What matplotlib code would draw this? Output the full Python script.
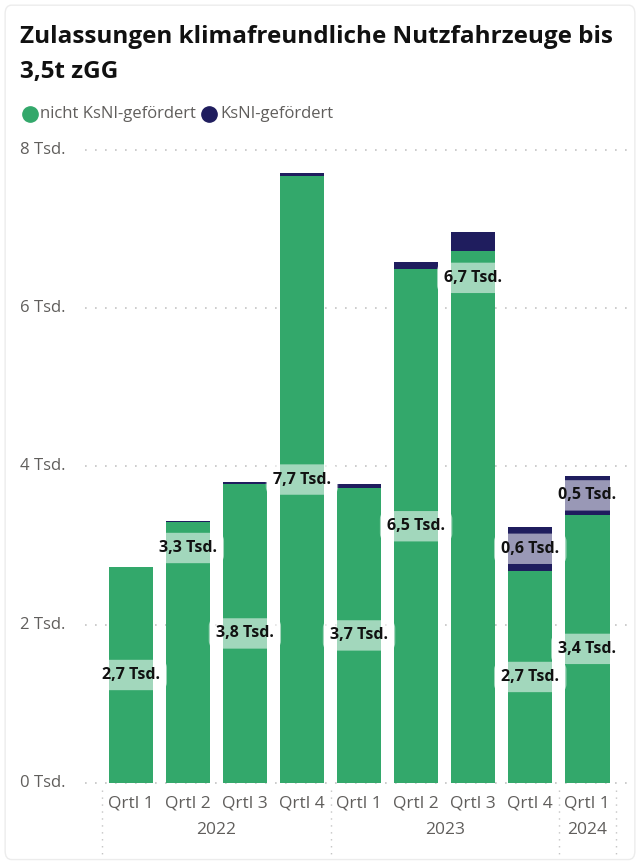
import matplotlib.pyplot as plt
from matplotlib.patches import FancyBboxPatch
from matplotlib.lines import Line2D

# quarterly registrations, thousands
quarters = ['Qrtl 1', 'Qrtl 2', 'Qrtl 3', 'Qrtl 4',
            'Qrtl 1', 'Qrtl 2', 'Qrtl 3', 'Qrtl 4', 'Qrtl 1']
years = ['2022', '2023', '2024']
year_quarters = [4, 4, 1]
nicht_ksni = [2.73, 3.30, 3.78, 7.67, 3.73, 6.49, 6.72, 2.68, 3.39]
ksni = [0.0, 0.01, 0.02, 0.04, 0.05, 0.09, 0.24, 0.56, 0.49]
yticks = [0, 2, 4, 6, 8]

# where the green labels sit inside their segment (0 = bottom, 1 = top)
label_frac = [0.5, 0.9, 0.5, 0.5, 0.5, 0.5, 0.95, 0.5, 0.5]

GREEN = '#33a86b'
NAVY = '#1f1d5e'
GRAY = '#605e5c'
FONT = 'Open Sans'

plt.rcParams['font.family'] = [FONT, 'DejaVu Sans']

fig = plt.figure(figsize=(6.4, 8.63), dpi=100)

# card border
fig.patches.append(FancyBboxPatch((0.008, 0.004), 0.984, 0.99,
                                  boxstyle='round,pad=0,rounding_size=0.01',
                                  transform=fig.transFigure, fc='none',
                                  ec='#ececec', lw=1.0))

fig.text(0.031, 0.957, 'Zulassungen klimafreundliche Nutzfahrzeuge bis',
         fontsize=17.5, fontweight='bold', color='#111111', va='center')
fig.text(0.031, 0.917, '3,5t zGG', fontsize=17.5, fontweight='bold',
         color='#111111', va='center')

# legend
fig.lines.append(Line2D([0.047], [0.868], marker='o', markersize=11,
                        color=GREEN, transform=fig.transFigure))
fig.text(0.062, 0.868, 'nicht KsNI-gefördert', fontsize=12, color=GRAY,
         va='center')
fig.lines.append(Line2D([0.327], [0.868], marker='o', markersize=11,
                        color=NAVY, transform=fig.transFigure))
fig.text(0.344, 0.868, 'KsNI-gefördert', fontsize=12, color=GRAY,
         va='center')

ax = fig.add_axes([0.133, 0.0927, 0.856, 0.7335])
x = list(range(len(quarters)))
ax.bar(x, nicht_ksni, width=0.78, color=GREEN, zorder=2)
ax.bar(x, ksni, width=0.78, bottom=nicht_ksni, color=NAVY, zorder=2)

ax.set_xlim(-0.8, 8.8)
ax.set_ylim(0, 8)
for y in yticks:
    ax.axhline(y, color='#c4c4c4', lw=1.2, ls=(0, (1, 5)), zorder=1,
               clip_on=False)
ax.set_yticks(yticks)
ax.set_yticklabels([])
for y in yticks:
    ax.text(-0.118, y, f'{y} Tsd.', transform=ax.get_yaxis_transform(),
            fontsize=12, color=GRAY, ha='left', va='center')

ax.set_xticks(x)
ax.set_xticklabels(quarters, fontsize=12.5, color=GRAY)
ax.tick_params(axis='both', length=0, pad=9)
for s in ax.spines.values():
    s.set_visible(False)

# year row and dotted group separators
start = 0
bounds = [-0.5]
for yr, n in zip(years, year_quarters):
    ax.text(start + (n - 1) / 2, -0.075, yr, transform=ax.get_xaxis_transform(),
            fontsize=12.5, color=GRAY, ha='center', va='center')
    start += n
    bounds.append(start - 0.5)
for b in bounds:
    ax.plot([b, b], [-0.011, -0.114], transform=ax.get_xaxis_transform(),
            color='#c4c4c4', lw=1.0, ls=(0, (1, 4)), clip_on=False)


def fmt(v):
    return f'{v:.1f}'.replace('.', ',') + ' Tsd.'


box = dict(boxstyle='round,pad=0.45,rounding_size=0.5', fc='white',
           ec='none', alpha=0.55)
for i, (g, k) in enumerate(zip(nicht_ksni, ksni)):
    ax.text(i, g * label_frac[i], fmt(g), ha='center', va='center',
            fontsize=11.5, fontweight='bold', color='#111111', bbox=box,
            zorder=4)
    if k >= 0.3:
        ax.text(i, g + k / 2, fmt(k), ha='center', va='center',
                fontsize=11.5, fontweight='bold', color='#111111', bbox=box,
                zorder=4)

fig.savefig('out.png', dpi=100)
